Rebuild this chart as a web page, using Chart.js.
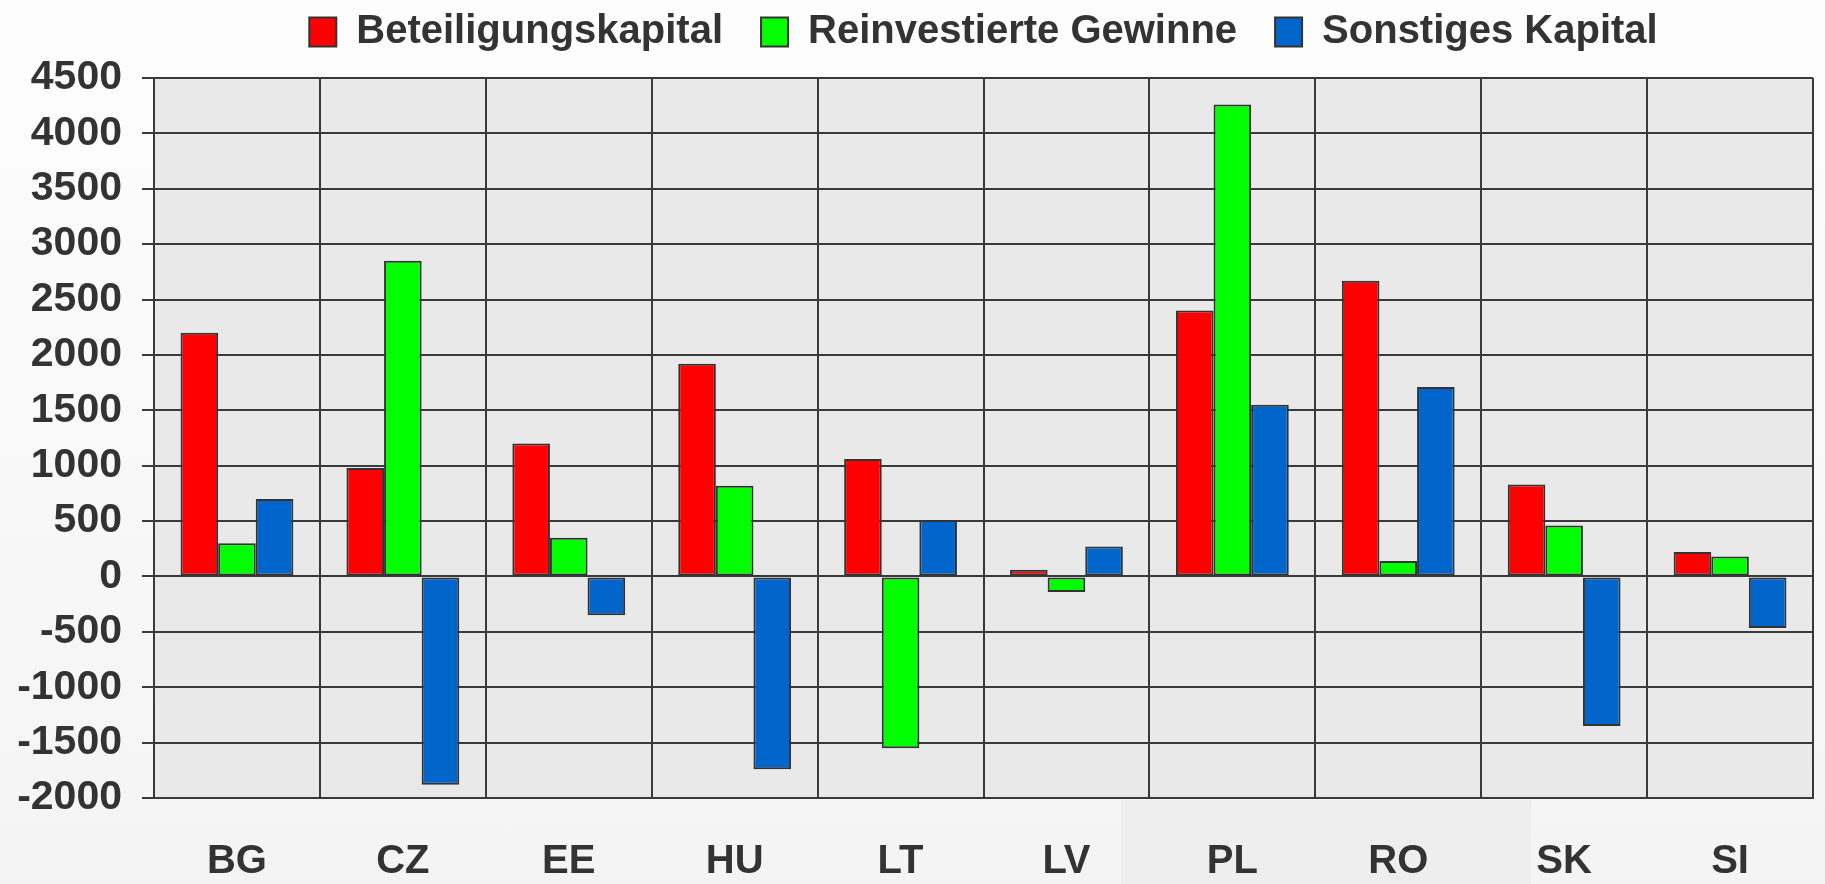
<!DOCTYPE html>
<html>
<head>
<meta charset="utf-8">
<script src="https://cdn.jsdelivr.net/npm/chart.js@4.4.1/dist/chart.umd.min.js"></script>
<style>
  html, body { margin: 0; padding: 0; }
  body { width: 1825px; height: 884px; overflow: hidden;
         background: linear-gradient(to bottom, #fdfdfd, #f4f4f4); }
  #wrap { position: relative; width: 1825px; height: 884px; }
  #band { position: absolute; left: 1121px; top: 800px; width: 410px; height: 84px; background: #eeeeee; }
  #myCan { position: absolute; left: 0; top: 0; }
</style>
</head>
<body>
<div id="wrap">
  <div id="band"></div>
  <canvas id="myCan" width="1825" height="884"></canvas>
</div>
<script>
// Länder (Kategorien)
var countries = ['BG', 'CZ', 'EE', 'HU', 'LT', 'LV', 'PL', 'RO', 'SK', 'SI'];

// Serien
var beteiligung  = [2200,  980, 1200, 1920, 1060,   60, 2400, 2670,  830,  220];
var reinvestiert = [ 300, 2850,  350,  820, -1550, -140, 4260,  140,  460,  180];
var sonstiges    = [ 700, -1880, -350, -1740, 510,  270, 1550, 1710, -1350, -465];

var seriesNames = ['Beteiligungskapital', 'Reinvestierte Gewinne', 'Sonstiges Kapital'];
var seriesColors = ['#ff0000', '#00ff00', '#0066cc'];

var yMin = -2000, yMax = 4500, yStep = 500;

var txtcolor = '#333333';
var linecolor = '#3a3a3a';

Chart.defaults.font.family = '"Liberation Sans", Arial, sans-serif';
Chart.defaults.font.weight = 'bold';
Chart.defaults.color = txtcolor;

// grauer Hintergrund der Zeichenfläche
var plotBg = {
  id: 'plotBg',
  beforeDraw: function(chart) {
    var a = chart.chartArea, c = chart.ctx;
    c.save();
    c.fillStyle = '#e9e9e9';
    c.fillRect(a.left, a.top, a.right - a.left, a.bottom - a.top);
    c.restore();
  }
};

function makeSet(i, vals) {
  return {
    label: seriesNames[i],
    data: vals,
    backgroundColor: seriesColors[i],
    borderColor: '#333333',
    borderWidth: 2,
    borderSkipped: false,
    categoryPercentage: 0.68,
    barPercentage: 1.0
  };
}

var ctxx = document.getElementById('myCan').getContext('2d');
var xChart = new Chart(ctxx, {
  type: 'bar',
  data: {
    labels: countries,
    datasets: [makeSet(0, beteiligung), makeSet(1, reinvestiert), makeSet(2, sonstiges)]
  },
  options: {
    responsive: false,
    animation: false,
    layout: { padding: { left: 16, right: 12, top: -26, bottom: 0 } },
    plugins: {
      tooltip: { enabled: false },
      legend: {
        position: 'top',
        fullSize: false,
        labels: {
          color: txtcolor,
          boxWidth: 27,
          boxHeight: 29,
          padding: 38,
          font: { size: 40, weight: 'bold' }
        }
      }
    },
    scales: {
      // leerer Abstand zwischen Legende und Diagramm
      xTop: {
        type: 'category',
        position: 'top',
        grid: { display: false },
        border: { display: false },
        ticks: { display: false },
        afterFit: function(s) { s.height = 16; }
      },
      x: {
        grid: { color: linecolor, lineWidth: 2, offset: true, drawTicks: false },
        border: { color: linecolor, width: 2 },
        ticks: {
          color: txtcolor,
          padding: 42,
          font: { size: 40, weight: 'bold', lineHeight: 1.1 }
        },
        afterFit: function(s) { s.height = 86; }
      },
      y: {
        min: yMin,
        max: yMax,
        grid: { color: linecolor, lineWidth: 2, tickLength: 12 },
        border: { color: linecolor, width: 2 },
        ticks: {
          stepSize: yStep,
          color: txtcolor,
          padding: 20,
          font: { size: 41, weight: 'bold', lineHeight: 1.1 },
          callback: function(v) { return String(v); }
        },
        afterFit: function(s) { s.width = 138; }
      }
    }
  },
  plugins: [plotBg]
});
</script>
</body>
</html>
